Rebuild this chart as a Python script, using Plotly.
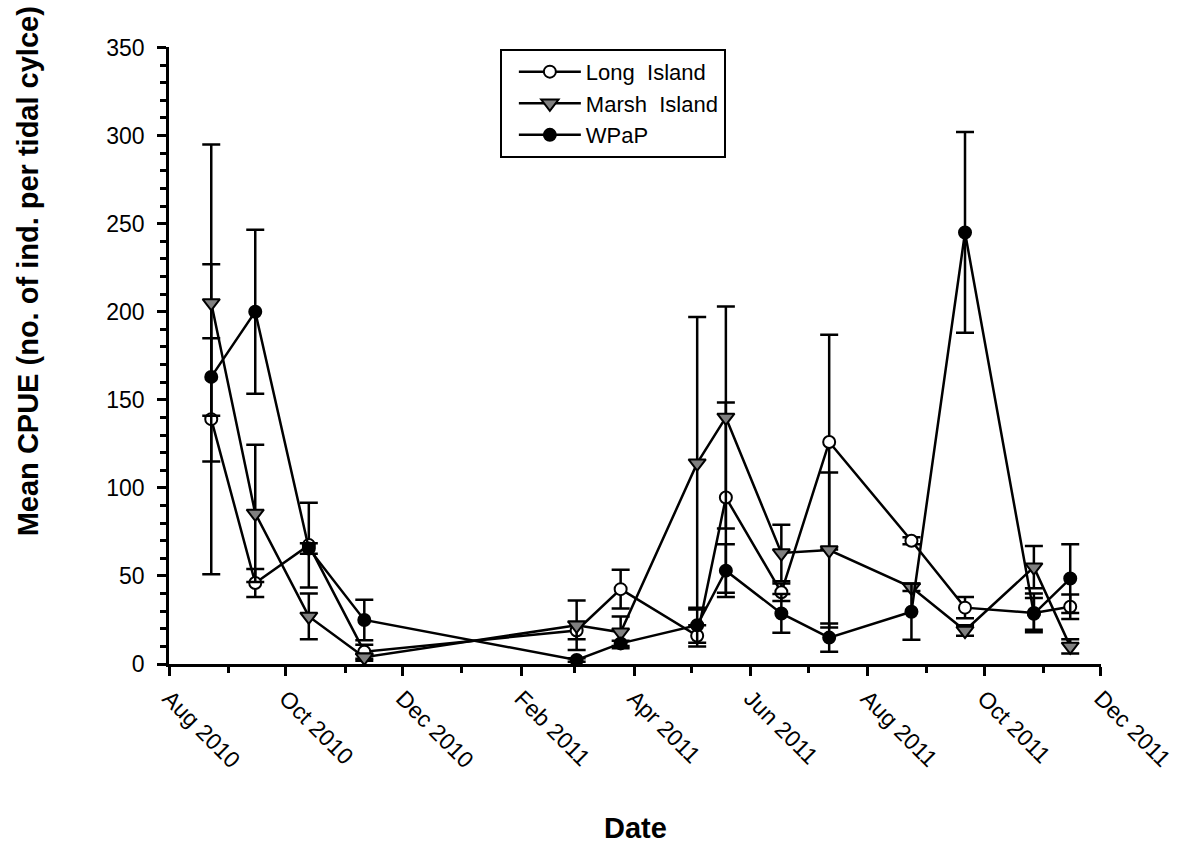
import plotly.graph_objects as go

dates = ["2010-08-23", "2010-09-15", "2010-10-13", "2010-11-11", "2011-03-02",
         "2011-03-25", "2011-05-04", "2011-05-19", "2011-06-17", "2011-07-12",
         "2011-08-24", "2011-09-21", "2011-10-27", "2011-11-15"]

long_island = [139, 46, 67.5, 7, 19, 42.5, 16, 94.5, 40.7, 126, 70, 32, 29, 32.5]
long_island_err = [88, 8, 24, 4, 5, 11, 6, 54, 5, 61, 2, 6, 11, 7]

marsh_island = [205, 85.5, 27, 3.8, 22, 18, 114, 140, 63, 64.7, 43.5, 19, 55, 10]
marsh_island_err = [90, 39, 13, 2, 14, 9, 83, 63, 16, 44, 2, 3, 12, 4]

wpap = [163, 200, 65.6, 25, 2.3, 11.7, 22, 53, 28.7, 15, 29.7, 245, 28.5, 48.5]
wpap_err = [22, 46.5, 3, 11.5, 1, 1.5, 10, 15, 11, 8, 16, 57, 9, 19.5]

series_names = ["Long\u00a0 Island", "Marsh\u00a0 Island", "WPaP"]

FONT = "Liberation Sans, Arial, sans-serif"
LW = 2.5

fig = go.Figure()

def add_series(name, y, err, symbol, fill, size):
    fig.add_trace(go.Scatter(
        x=dates, y=y, name=name, mode="lines+markers",
        line=dict(color="black", width=LW),
        marker=dict(symbol=symbol, color=fill, size=size,
                    line=dict(color="black", width=2)),
        error_y=dict(type="data", array=err, visible=True,
                     color="black", thickness=LW, width=9),
        cliponaxis=False,
    ))

add_series(series_names[0], long_island, long_island_err, "circle", "white", 12)
add_series(series_names[1], marsh_island, marsh_island_err, "triangle-down", "#808080", 15)
add_series(series_names[2], wpap, wpap_err, "circle", "black", 12)

fig.update_layout(
    width=1188, height=848, autosize=False,
    margin=dict(l=169, r=85, t=47, b=184),
    paper_bgcolor="white", plot_bgcolor="white",
    font=dict(family=FONT, color="black", size=23),
    showlegend=True,
    legend=dict(x=0.355, y=0.997, xanchor="left", yanchor="top",
                bgcolor="white", bordercolor="black", borderwidth=2,
                font=dict(family=FONT, size=22, color="black"),
                itemwidth=62, indentation=12),
    xaxis=dict(
        type="date", range=["2010-07-31 22:00", "2011-12-01 02:00"],
        tickmode="linear", tick0="2010-08-01", dtick="M2",
        tickformat="%b %Y", tickangle=45,
        ticks="outside", ticklen=9, tickwidth=LW, tickcolor="black",
        showline=True, linecolor="black", linewidth=LW,
        showgrid=False, zeroline=False,
        tickfont=dict(family=FONT, size=23, color="black"),
        minor=dict(dtick="M1", tick0="2010-08-01", ticks="outside",
                   ticklen=6, tickwidth=LW, tickcolor="black", showgrid=False),
    ),
    yaxis=dict(
        range=[0, 350.3], tickmode="linear", tick0=0, dtick=50,
        ticks="outside", ticklen=9, tickwidth=LW, tickcolor="black",
        showline=True, linecolor="black", linewidth=LW,
        showgrid=False, zeroline=False, ticklabelstandoff=8,
        tickfont=dict(family=FONT, size=23, color="black"),
        minor=dict(dtick=10, tick0=0, ticks="outside",
                   ticklen=6, tickwidth=LW, tickcolor="black", showgrid=False),
    ),
    annotations=[
        dict(text="<b>Mean CPUE (no. of ind. per tidal cylce)</b>",
             xref="paper", yref="paper", x=(28 - 169) / 934, y=(664 - 271) / 617,
             xanchor="center", yanchor="middle", textangle=-90, showarrow=False,
             font=dict(family=FONT, size=29, color="black")),
        dict(text="<b>Date</b>",
             xref="paper", yref="paper", x=0.5, y=(664 - 828) / 617,
             xanchor="center", yanchor="middle", showarrow=False,
             font=dict(family=FONT, size=29, color="black")),
    ],
)

fig.write_html("out.html")
